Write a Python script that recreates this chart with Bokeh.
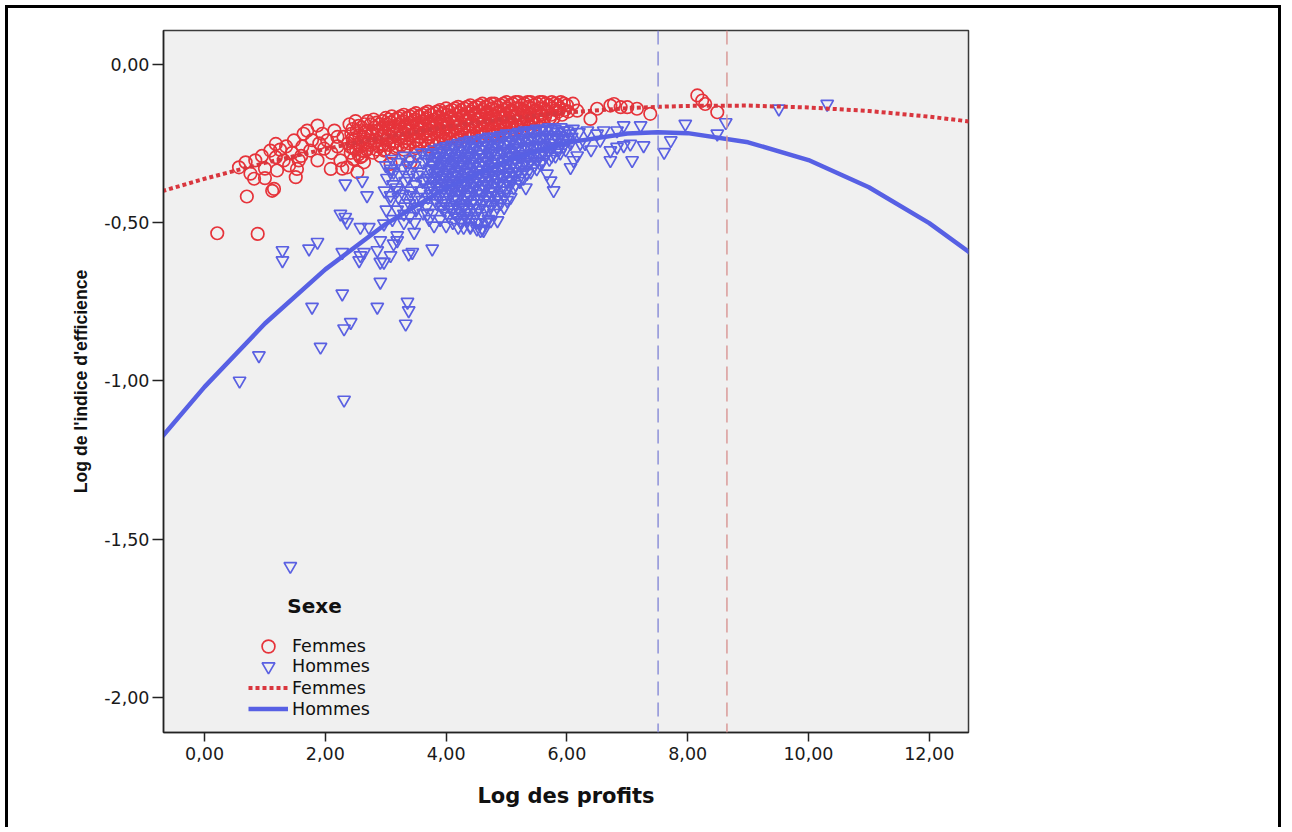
from bokeh.plotting import figure
from bokeh.models import (Range1d, FixedTicker, CustomJSTickFormatter, Span,
                          Legend, LegendItem, Label, ColumnDataSource)
from bokeh.embed import file_html
from bokeh.resources import INLINE

# ---------------- data ----------------
x_ticks = [0, 2, 4, 6, 8, 10, 12]
y_ticks = [0.0, -0.5, -1.0, -1.5, -2.0]
group_labels = ["Femmes", "Hommes"]
legend_title = "Sexe"
x_title = "Log des profits"
y_title = "Log de l'indice d'efficience"

# Femmes (red circles): (log profits, log efficiency index)
femmes_pts = [
    (0.21, -0.534), (0.88, -0.536), (0.70, -0.418), (1.12, -0.400), (1.15, -0.394),
    (0.82, -0.362), (0.76, -0.346), (0.57, -0.326), (0.68, -0.310), (0.84, -0.304),
    (1.20, -0.336), (1.18, -0.294), (1.09, -0.273), (1.18, -0.252), (1.31, -0.304),
    (1.51, -0.357), (1.53, -0.331), (1.56, -0.304), (1.48, -0.241), (1.64, -0.220),
    (1.70, -0.210), (1.87, -0.194), (2.03, -0.241), (1.75, -0.273), (1.98, -0.267),
    (1.87, -0.304), (2.09, -0.331), (2.36, -0.326), (2.53, -0.341), (2.25, -0.304),
    (2.58, -0.294), (2.64, -0.310), (2.42, -0.262), (2.69, -0.247), (3.08, -0.315),
    (3.41, -0.310), (2.97, -0.273), (1.45, -0.280), (1.62, -0.260), (1.95, -0.220),
    (2.15, -0.210), (2.20, -0.260), (2.30, -0.230), (1.00, -0.330),
    (1.00, -0.36), (1.35, -0.26), (1.40, -0.32), (1.60, -0.29), (1.78, -0.24),
    (1.90, -0.25), (2.10, -0.28), (2.20, -0.23), (2.28, -0.33), (0.95, -0.29), (1.25, -0.27),
    (2.40, -0.19), (2.43, -0.22), (2.38, -0.25), (2.42, -0.28),
    (2.50, -0.18), (2.52, -0.21), (2.48, -0.24), (2.51, -0.27), (2.47, -0.30),
    (2.60, -0.20), (2.63, -0.23), (2.58, -0.26), (2.61, -0.29),
    (2.70, -0.18), (2.68, -0.21), (2.72, -0.24), (2.69, -0.27),
    (2.80, -0.175), (2.82, -0.20), (2.78, -0.22), (2.81, -0.25), (2.79, -0.28),
    (2.90, -0.19), (2.88, -0.21), (2.92, -0.23), (2.89, -0.26), (2.91, -0.29),
    (3.00, -0.17), (3.02, -0.19), (2.98, -0.215), (3.01, -0.24), (2.99, -0.27),
    (3.10, -0.165), (3.08, -0.185), (3.12, -0.205), (3.09, -0.23), (3.11, -0.25), (3.10, -0.28),
    (3.20, -0.17), (3.22, -0.19), (3.18, -0.21), (3.21, -0.235), (3.19, -0.26),
    (3.30, -0.16), (3.28, -0.18), (3.32, -0.20), (3.29, -0.22), (3.31, -0.245), (3.30, -0.27),
    (3.40, -0.165), (3.42, -0.185), (3.38, -0.205), (3.41, -0.225), (3.39, -0.25),
    (3.50, -0.155), (3.48, -0.175), (3.52, -0.195), (3.49, -0.215), (3.51, -0.24), (3.50, -0.265),
    (3.60, -0.16), (3.62, -0.18), (3.58, -0.20), (3.61, -0.22), (3.59, -0.245),
    (3.70, -0.15), (3.68, -0.17), (3.72, -0.19), (3.69, -0.21), (3.71, -0.23), (3.70, -0.26),
    (3.80, -0.155), (3.82, -0.175), (3.78, -0.195), (3.81, -0.215), (3.79, -0.24),
    (3.90, -0.145), (3.88, -0.165), (3.92, -0.185), (3.89, -0.205), (3.91, -0.225), (3.90, -0.25),
    (4.00, -0.14), (4.02, -0.16), (3.98, -0.18), (4.01, -0.20), (3.99, -0.22), (4.00, -0.245),
    (4.10, -0.145), (4.08, -0.165), (4.12, -0.185), (4.09, -0.21), (4.11, -0.23),
    (4.20, -0.135), (4.22, -0.155), (4.18, -0.175), (4.21, -0.195), (4.19, -0.215), (4.20, -0.24),
    (4.30, -0.14), (4.28, -0.16), (4.32, -0.18), (4.29, -0.20), (4.31, -0.225),
    (4.40, -0.13), (4.42, -0.15), (4.38, -0.17), (4.41, -0.19), (4.39, -0.21), (4.40, -0.235),
    (4.50, -0.135), (4.48, -0.155), (4.52, -0.175), (4.49, -0.195), (4.51, -0.22),
    (4.60, -0.125), (4.62, -0.145), (4.58, -0.165), (4.61, -0.185), (4.59, -0.205), (4.60, -0.23),
    (4.70, -0.13), (4.68, -0.15), (4.72, -0.17), (4.69, -0.19), (4.71, -0.21),
    (4.80, -0.125), (4.82, -0.145), (4.78, -0.165), (4.81, -0.185), (4.79, -0.205), (4.80, -0.225),
    (4.90, -0.13), (4.88, -0.15), (4.92, -0.17), (4.89, -0.19), (4.91, -0.21),
    (5.00, -0.12), (5.02, -0.14), (4.98, -0.16), (5.01, -0.18), (4.99, -0.20),
    (5.10, -0.125), (5.08, -0.145), (5.12, -0.165), (5.09, -0.185), (5.11, -0.205),
    (5.20, -0.12), (5.22, -0.14), (5.18, -0.16), (5.21, -0.18), (5.19, -0.20),
    (5.30, -0.125), (5.28, -0.145), (5.32, -0.165), (5.29, -0.185),
    (5.40, -0.12), (5.42, -0.14), (5.38, -0.16), (5.41, -0.18), (5.39, -0.20),
    (5.50, -0.125), (5.48, -0.145), (5.52, -0.165), (5.49, -0.19),
    (5.60, -0.12), (5.62, -0.14), (5.58, -0.16), (5.61, -0.18),
    (5.70, -0.13), (5.68, -0.15), (5.72, -0.17),
    (5.80, -0.125), (5.82, -0.145), (5.78, -0.17),
    (5.90, -0.12), (5.88, -0.14), (5.92, -0.16),
    (6.00, -0.13), (6.02, -0.15), (6.10, -0.125),
    (2.45, -0.205), (2.45, -0.235), (2.46, -0.265),
    (2.55, -0.195), (2.56, -0.225), (2.54, -0.255), (2.55, -0.285),
    (2.65, -0.19), (2.66, -0.215), (2.64, -0.245), (2.65, -0.275),
    (2.75, -0.19), (2.76, -0.225), (2.74, -0.255),
    (2.85, -0.185), (2.86, -0.21), (2.84, -0.24), (2.85, -0.27),
    (2.95, -0.18), (2.96, -0.20), (2.94, -0.225), (2.95, -0.255),
    (3.05, -0.175), (3.06, -0.20), (3.04, -0.225), (3.05, -0.255),
    (3.15, -0.175), (3.16, -0.195), (3.14, -0.22), (3.15, -0.245), (3.16, -0.265),
    (3.25, -0.165), (3.26, -0.185), (3.24, -0.205), (3.25, -0.23), (3.26, -0.255),
    (3.35, -0.17), (3.36, -0.19), (3.34, -0.21), (3.35, -0.235), (3.36, -0.26),
    (3.45, -0.16), (3.46, -0.18), (3.44, -0.20), (3.45, -0.22), (3.46, -0.245),
    (3.55, -0.165), (3.56, -0.185), (3.54, -0.205), (3.55, -0.23), (3.56, -0.255),
    (3.65, -0.155), (3.66, -0.175), (3.64, -0.195), (3.65, -0.215), (3.66, -0.24),
    (3.75, -0.16), (3.76, -0.18), (3.74, -0.20), (3.75, -0.22), (3.76, -0.245),
    (3.85, -0.15), (3.86, -0.17), (3.84, -0.19), (3.85, -0.21), (3.86, -0.235),
    (3.95, -0.155), (3.96, -0.175), (3.94, -0.195), (3.95, -0.215), (3.96, -0.24),
    (4.05, -0.15), (4.06, -0.17), (4.04, -0.19), (4.05, -0.21), (4.06, -0.235),
    (4.15, -0.14), (4.16, -0.16), (4.14, -0.18), (4.15, -0.20), (4.16, -0.225),
    (4.25, -0.145), (4.26, -0.165), (4.24, -0.185), (4.25, -0.21), (4.26, -0.23),
    (4.35, -0.135), (4.36, -0.155), (4.34, -0.175), (4.35, -0.195), (4.36, -0.215),
    (4.45, -0.14), (4.46, -0.16), (4.44, -0.18), (4.45, -0.20), (4.46, -0.225),
    (4.55, -0.13), (4.56, -0.15), (4.54, -0.17), (4.55, -0.19), (4.56, -0.21),
    (4.65, -0.135), (4.66, -0.155), (4.64, -0.175), (4.65, -0.195), (4.66, -0.22),
    (4.75, -0.125), (4.76, -0.14), (4.74, -0.16), (4.75, -0.18), (4.76, -0.20),
    (4.85, -0.135), (4.86, -0.155), (4.84, -0.175), (4.85, -0.195), (4.86, -0.215),
    (4.95, -0.125), (4.96, -0.145), (4.94, -0.165), (4.95, -0.185), (4.96, -0.20),
    (5.05, -0.13), (5.06, -0.15), (5.04, -0.17), (5.05, -0.19),
    (5.15, -0.12), (5.16, -0.14), (5.14, -0.16), (5.15, -0.18), (5.16, -0.195),
    (5.25, -0.13), (5.26, -0.15), (5.24, -0.17), (5.25, -0.19),
    (5.35, -0.12), (5.36, -0.135), (5.34, -0.155), (5.35, -0.175), (5.36, -0.19),
    (5.45, -0.13), (5.46, -0.15), (5.44, -0.17), (5.45, -0.185),
    (5.55, -0.12), (5.56, -0.14), (5.54, -0.155), (5.55, -0.175),
    (5.65, -0.125), (5.66, -0.145), (5.64, -0.165),
    (5.75, -0.12), (5.76, -0.14), (5.74, -0.16),
    (5.85, -0.13), (5.86, -0.15), (5.95, -0.125), (5.96, -0.145),
    (6.17, -0.147), (6.39, -0.173), (6.50, -0.141), (6.72, -0.131), (6.78, -0.126),
    (6.89, -0.136), (7.00, -0.136), (7.16, -0.141), (7.38, -0.157),
    (8.16, -0.099), (8.24, -0.115), (8.29, -0.126), (8.49, -0.152),
]

# Hommes (blue inverted triangles)
hommes_pts = [
    (1.42, -1.585), (2.31, -1.06), (0.58, -1.00), (0.90, -0.92), (1.92, -0.893),
    (1.78, -0.767), (2.28, -0.725), (2.42, -0.815), (2.31, -0.835), (2.86, -0.767),
    (3.36, -0.751), (3.38, -0.778), (3.33, -0.82), (2.91, -0.688),
    (1.29, -0.588), (1.29, -0.620), (1.73, -0.583), (1.87, -0.562), (2.28, -0.594),
    (2.56, -0.62), (2.58, -0.604), (2.64, -0.594), (2.86, -0.588), (2.91, -0.625),
    (2.97, -0.625), (3.08, -0.604), (3.13, -0.567), (3.19, -0.557), (3.38, -0.599),
    (3.44, -0.594), (3.77, -0.583),
    (2.33, -0.378), (2.61, -0.368), (2.25, -0.473), (2.33, -0.483), (2.36, -0.499),
    (2.69, -0.415), (2.58, -0.515), (2.72, -0.515), (2.97, -0.504), (2.91, -0.557),
    (3.19, -0.541), (3.47, -0.531), (3.30, -0.473), (3.52, -0.452), (3.69, -0.473),
    (3.08, -0.415), (3.19, -0.399), (3.41, -0.415), (3.08, -0.331), (3.13, -0.341),
    (3.36, -0.32), (3.63, -0.368), (4.24, -0.494), (4.40, -0.515), (4.57, -0.525),
    (4.74, -0.494), (4.85, -0.494), (4.96, -0.452), (5.07, -0.42), (4.51, -0.52),
    (4.62, -0.525), (4.29, -0.515),
    (3.00, -0.32), (3.02, -0.36), (2.98, -0.40), (3.01, -0.46),
    (3.10, -0.30), (3.08, -0.34), (3.12, -0.38), (3.09, -0.43), (3.11, -0.49),
    (3.20, -0.31), (3.22, -0.35), (3.18, -0.39), (3.21, -0.42), (3.19, -0.46),
    (3.30, -0.29), (3.28, -0.33), (3.32, -0.37), (3.29, -0.41), (3.31, -0.45), (3.30, -0.50),
    (3.40, -0.30), (3.42, -0.34), (3.38, -0.36), (3.41, -0.40), (3.39, -0.44), (3.40, -0.48),
    (3.50, -0.29), (3.48, -0.32), (3.52, -0.35), (3.49, -0.38), (3.51, -0.42), (3.50, -0.46), (3.48, -0.50),
    (3.60, -0.28), (3.62, -0.31), (3.58, -0.34), (3.61, -0.37), (3.59, -0.40), (3.60, -0.43), (3.62, -0.47),
    (3.70, -0.28), (3.68, -0.30), (3.72, -0.33), (3.69, -0.36), (3.71, -0.39), (3.70, -0.42), (3.68, -0.45), (3.72, -0.49),
    (3.80, -0.27), (3.82, -0.295), (3.78, -0.32), (3.81, -0.345), (3.79, -0.37), (3.80, -0.40), (3.82, -0.43), (3.78, -0.47), (3.80, -0.51),
    (3.90, -0.265), (3.88, -0.29), (3.92, -0.315), (3.89, -0.34), (3.91, -0.365), (3.90, -0.39), (3.88, -0.42), (3.92, -0.45), (3.90, -0.49),
    (4.00, -0.26), (4.02, -0.285), (3.98, -0.31), (4.01, -0.335), (3.99, -0.36), (4.00, -0.385), (4.02, -0.41), (3.98, -0.44), (4.01, -0.47), (4.00, -0.51),
    (4.10, -0.255), (4.08, -0.28), (4.12, -0.305), (4.09, -0.33), (4.11, -0.355), (4.10, -0.38), (4.08, -0.405), (4.12, -0.43), (4.09, -0.46), (4.11, -0.50),
    (4.20, -0.25), (4.22, -0.275), (4.18, -0.30), (4.21, -0.325), (4.19, -0.35), (4.20, -0.375), (4.22, -0.40), (4.18, -0.425), (4.21, -0.455), (4.19, -0.485), (4.20, -0.515),
    (4.30, -0.245), (4.28, -0.27), (4.32, -0.295), (4.29, -0.32), (4.31, -0.345), (4.30, -0.37), (4.28, -0.395), (4.32, -0.42), (4.29, -0.45), (4.31, -0.48),
    (4.40, -0.24), (4.42, -0.265), (4.38, -0.29), (4.41, -0.315), (4.39, -0.34), (4.40, -0.365), (4.42, -0.39), (4.38, -0.415), (4.41, -0.44), (4.39, -0.47), (4.40, -0.51),
    (4.50, -0.24), (4.48, -0.26), (4.52, -0.285), (4.49, -0.31), (4.51, -0.335), (4.50, -0.36), (4.48, -0.385), (4.52, -0.41), (4.49, -0.44), (4.51, -0.47), (4.50, -0.50),
    (4.60, -0.235), (4.62, -0.26), (4.58, -0.285), (4.61, -0.31), (4.59, -0.335), (4.60, -0.36), (4.62, -0.385), (4.58, -0.41), (4.61, -0.44), (4.59, -0.48), (4.60, -0.52),
    (4.70, -0.23), (4.68, -0.255), (4.72, -0.28), (4.69, -0.305), (4.71, -0.33), (4.70, -0.355), (4.68, -0.38), (4.72, -0.405), (4.69, -0.43), (4.71, -0.46), (4.70, -0.49),
    (4.80, -0.23), (4.82, -0.25), (4.78, -0.275), (4.81, -0.30), (4.79, -0.325), (4.80, -0.35), (4.82, -0.375), (4.78, -0.40), (4.81, -0.43), (4.79, -0.47),
    (4.90, -0.225), (4.88, -0.25), (4.92, -0.275), (4.89, -0.30), (4.91, -0.325), (4.90, -0.35), (4.88, -0.375), (4.92, -0.40), (4.90, -0.44),
    (5.00, -0.22), (5.02, -0.245), (4.98, -0.27), (5.01, -0.295), (4.99, -0.32), (5.00, -0.345), (5.02, -0.37), (4.98, -0.40), (5.01, -0.43),
    (5.10, -0.22), (5.08, -0.24), (5.12, -0.265), (5.09, -0.29), (5.11, -0.315), (5.10, -0.34), (5.08, -0.365), (5.12, -0.39),
    (5.20, -0.215), (5.22, -0.24), (5.18, -0.265), (5.21, -0.29), (5.19, -0.315), (5.20, -0.34), (5.22, -0.37),
    (5.30, -0.21), (5.28, -0.235), (5.32, -0.26), (5.29, -0.285), (5.31, -0.31), (5.30, -0.335), (5.28, -0.36), (5.32, -0.39),
    (5.40, -0.21), (5.42, -0.235), (5.38, -0.26), (5.41, -0.285), (5.39, -0.31), (5.40, -0.34),
    (5.50, -0.205), (5.48, -0.23), (5.52, -0.255), (5.49, -0.28), (5.51, -0.305), (5.50, -0.33),
    (5.60, -0.205), (5.62, -0.23), (5.58, -0.255), (5.61, -0.28), (5.59, -0.31),
    (5.70, -0.20), (5.68, -0.225), (5.72, -0.25), (5.69, -0.275), (5.71, -0.30),
    (5.80, -0.205), (5.82, -0.23), (5.78, -0.26), (5.81, -0.29),
    (5.90, -0.20), (5.88, -0.225), (5.92, -0.25), (5.89, -0.28),
    (6.00, -0.21), (6.02, -0.24), (5.98, -0.27),
    (6.10, -0.205), (6.08, -0.23), (6.20, -0.215), (6.22, -0.25),
    (3.75, -0.285), (3.76, -0.31), (3.74, -0.335), (3.75, -0.36), (3.76, -0.385), (3.74, -0.41),
    (3.85, -0.28), (3.86, -0.305), (3.84, -0.33), (3.85, -0.355), (3.86, -0.38), (3.84, -0.41), (3.85, -0.44),
    (3.95, -0.275), (3.96, -0.30), (3.94, -0.325), (3.95, -0.35), (3.96, -0.375), (3.94, -0.40), (3.95, -0.43), (3.96, -0.46),
    (4.05, -0.27), (4.06, -0.295), (4.04, -0.32), (4.05, -0.345), (4.06, -0.37), (4.04, -0.395), (4.05, -0.42), (4.06, -0.45), (4.04, -0.48),
    (4.15, -0.265), (4.16, -0.29), (4.14, -0.315), (4.15, -0.34), (4.16, -0.365), (4.14, -0.39), (4.15, -0.415), (4.16, -0.445), (4.14, -0.47),
    (4.25, -0.26), (4.26, -0.285), (4.24, -0.31), (4.25, -0.335), (4.26, -0.36), (4.24, -0.385), (4.25, -0.41), (4.26, -0.44), (4.24, -0.47), (4.25, -0.50),
    (4.35, -0.255), (4.36, -0.28), (4.34, -0.305), (4.35, -0.33), (4.36, -0.355), (4.34, -0.38), (4.35, -0.405), (4.36, -0.43), (4.34, -0.46), (4.35, -0.49),
    (4.45, -0.25), (4.46, -0.275), (4.44, -0.30), (4.45, -0.325), (4.46, -0.35), (4.44, -0.375), (4.45, -0.40), (4.46, -0.43), (4.44, -0.455), (4.45, -0.49),
    (4.55, -0.245), (4.56, -0.27), (4.54, -0.295), (4.55, -0.32), (4.56, -0.345), (4.54, -0.37), (4.55, -0.395), (4.56, -0.425), (4.54, -0.455), (4.55, -0.50),
    (4.65, -0.245), (4.66, -0.27), (4.64, -0.295), (4.65, -0.32), (4.66, -0.345), (4.64, -0.37), (4.65, -0.395), (4.66, -0.42), (4.64, -0.46), (4.65, -0.50),
    (4.75, -0.24), (4.76, -0.265), (4.74, -0.29), (4.75, -0.315), (4.76, -0.34), (4.74, -0.365), (4.75, -0.39), (4.76, -0.415), (4.74, -0.445),
    (4.85, -0.235), (4.86, -0.26), (4.84, -0.285), (4.85, -0.31), (4.86, -0.335), (4.84, -0.36), (4.85, -0.385), (4.86, -0.415), (4.84, -0.45),
    (4.95, -0.23), (4.96, -0.255), (4.94, -0.28), (4.95, -0.305), (4.96, -0.33), (4.94, -0.355), (4.95, -0.38), (4.96, -0.42),
    (5.05, -0.23), (5.06, -0.255), (5.04, -0.28), (5.05, -0.305), (5.06, -0.33), (5.04, -0.355), (5.05, -0.385),
    (5.15, -0.225), (5.16, -0.25), (5.14, -0.275), (5.15, -0.30), (5.16, -0.325), (5.14, -0.35), (5.15, -0.38),
    (5.25, -0.22), (5.26, -0.245), (5.24, -0.27), (5.25, -0.295), (5.26, -0.32), (5.24, -0.35),
    (5.35, -0.215), (5.36, -0.24), (5.34, -0.265), (5.35, -0.29), (5.36, -0.315), (5.34, -0.345),
    (5.45, -0.215), (5.46, -0.24), (5.44, -0.265), (5.45, -0.29), (5.46, -0.32),
    (5.55, -0.21), (5.56, -0.235), (5.54, -0.26), (5.55, -0.285), (5.56, -0.315),
    (5.65, -0.21), (5.66, -0.235), (5.64, -0.26), (5.65, -0.29),
    (5.75, -0.21), (5.76, -0.235), (5.74, -0.265), (5.75, -0.29),
    (5.85, -0.215), (5.86, -0.24), (5.84, -0.27),
    (5.95, -0.21), (5.96, -0.235), (5.94, -0.26), (6.05, -0.22), (6.06, -0.25),
    (5.67, -0.346), (5.73, -0.368), (5.78, -0.399), (6.11, -0.304), (6.06, -0.326), (6.17, -0.289),
    (6.30, -0.25), (6.40, -0.27), (6.55, -0.24),
    (6.94, -0.194), (7.22, -0.194), (6.61, -0.21), (6.83, -0.21), (6.34, -0.21), (6.50, -0.22),
    (6.72, -0.273), (6.83, -0.262), (7.05, -0.252), (6.94, -0.257), (7.27, -0.257),
    (7.08, -0.304), (6.72, -0.304), (7.61, -0.278), (7.72, -0.241), (7.96, -0.189),
    (8.49, -0.22), (8.63, -0.184), (9.51, -0.141), (10.31, -0.126),
]

# quadratic fit lines
fit_x = [-0.7, 0, 1, 2, 3, 4, 5, 6, 7, 7.5, 8, 9, 10, 11, 12, 12.7]
fit_femmes = [-0.401, -0.362, -0.312, -0.268, -0.230, -0.198, -0.172, -0.153,
              -0.139, -0.135, -0.132, -0.131, -0.137, -0.148, -0.166, -0.182]
fit_hommes = [-1.176, -1.019, -0.819, -0.648, -0.505, -0.391, -0.305, -0.248,
              -0.219, -0.215, -0.218, -0.247, -0.303, -0.389, -0.502, -0.599]
# reference lines (vertex of each fit)
vertex_hommes = 7.51
vertex_femmes = 8.65

# ---------------- style ----------------
RED = "#e6333a"
BLUE = "#5a60e2"
RED_LINE = "#d9363e"
BLUE_LINE = "#5760e4"
TXT = "DejaVu Sans"

p = figure(width=1276, height=822, output_backend="svg", toolbar_location=None,
           x_range=Range1d(-0.68, 12.65), y_range=Range1d(-2.11, 0.106),
           min_border_left=155, min_border_right=316, min_border_top=22,
           min_border_bottom=98)
p.styles = {"margin-left": "5px", "margin-top": "5px",
            "border-top": "3px solid black", "border-left": "3px solid black",
            "border-right": "3px solid black"}

p.background_fill_color = "#f0f0f0"
p.border_fill_color = "white"
p.outline_line_color = "#3a3a3a"
p.outline_line_width = 1.5
p.grid.visible = False

src_f = ColumnDataSource(dict(x=[a for a, b in femmes_pts], y=[b for a, b in femmes_pts]))
src_h = ColumnDataSource(dict(x=[a for a, b in hommes_pts], y=[b for a, b in hommes_pts]))

r_f = p.scatter("x", "y", source=src_f, marker="circle", size=12.5,
                fill_color=None, line_color=RED, line_width=1.7)
r_h = p.scatter("x", "y", source=src_h, marker="inverted_triangle", size=12.5,
                fill_color=None, line_color=BLUE, line_width=1.7)

p.add_layout(Span(location=vertex_hommes, dimension="height", line_color="#8d90d8",
                  line_width=1.5, line_dash="14 7"))
p.add_layout(Span(location=vertex_femmes, dimension="height", line_color="#d99a98",
                  line_width=1.5, line_dash="14 7"))

l_f = p.line(fit_x, fit_femmes, line_color=RED_LINE, line_width=4, line_dash="4 3")
l_h = p.line(fit_x, fit_hommes, line_color=BLUE_LINE, line_width=4.5)

# axes
for ax in (p.xaxis[0], p.yaxis[0]):
    ax.axis_line_color = "#222222"
    ax.axis_line_width = 1.5
    ax.major_tick_line_color = "#222222"
    ax.major_tick_line_width = 1.5
    ax.major_tick_in = 0
    ax.minor_tick_line_color = None
    ax.major_label_text_font = TXT
    ax.major_label_text_font_size = "17.5px"
    ax.major_label_text_color = "#1a1a1a"
    ax.axis_label_text_font_style = "bold"
    ax.axis_label_text_color = "#111111"
    ax.formatter = CustomJSTickFormatter(code="return tick.toFixed(2).replace('.', ',');")

p.xaxis.ticker = FixedTicker(ticks=x_ticks)
p.yaxis.ticker = FixedTicker(ticks=y_ticks)
p.xaxis.major_tick_out = 9
p.yaxis.major_tick_out = 11
p.xaxis.major_label_standoff = 5
p.yaxis.major_label_standoff = 3
p.xaxis.axis_label = x_title
p.xaxis.axis_label_text_font = TXT
p.xaxis.axis_label_text_font_size = "21px"
p.xaxis.axis_label_standoff = 21
p.yaxis.axis_label = y_title
p.yaxis.axis_label_text_font = "Liberation Sans"
p.yaxis.axis_label_text_font_size = "17.6px"
p.yaxis.axis_label_standoff = 10

# legend: one small legend per marker (taller glyph area -> bigger symbols),
# one for the two fit lines
legend_common = dict(orientation="vertical", background_fill_alpha=0,
                     border_line_color=None, label_text_font=TXT,
                     label_text_font_size="17.5px", label_text_color="#111111",
                     glyph_width=40, label_height=21, padding=5, margin=0,
                     label_standoff=4, spacing=0)
legend_f = Legend(items=[LegendItem(label=group_labels[0], renderers=[r_f])],
                  location=(85, 70), glyph_height=32, **legend_common)
legend_h = Legend(items=[LegendItem(label=group_labels[1], renderers=[r_h])],
                  location=(85, 50), glyph_height=32, **legend_common)
legend_fit = Legend(items=[LegendItem(label=group_labels[0], renderers=[l_f]),
                           LegendItem(label=group_labels[1], renderers=[l_h])],
                    location=(85, 13), glyph_height=21, **legend_common)
p.add_layout(legend_f)
p.add_layout(legend_h)
p.add_layout(legend_fit)
p.add_layout(Label(x=1.82, y=-1.711, text=legend_title, text_font=TXT,
                   text_font_style="bold", text_font_size="20px",
                   text_align="center", text_baseline="middle", text_color="#111111"))

open("out.html", "w").write(file_html(p, INLINE))
